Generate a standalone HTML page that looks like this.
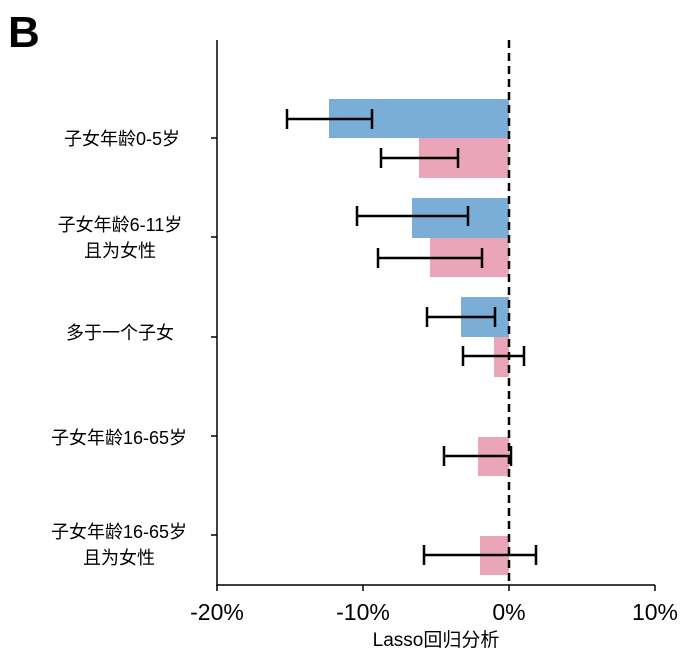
<!DOCTYPE html>
<html><head><meta charset="utf-8"><style>
body{margin:0;background:#fff;}
svg{display:block;font-family:"Liberation Sans","Noto Sans CJK SC",sans-serif;}
</style></head><body>
<svg width="690" height="664" viewBox="0 0 690 664" xmlns="http://www.w3.org/2000/svg">
<rect width="690" height="664" fill="#fff"/>
<text x="8" y="47" font-size="44" font-weight="bold" fill="#000">B</text>
<g fill="#7aaed6">
<rect x="329" y="99" width="180" height="39"/>
<rect x="412" y="198" width="97" height="40"/>
<rect x="461" y="297" width="48" height="40"/>
</g>
<g fill="#eba5b8">
<rect x="419" y="138" width="90" height="40"/>
<rect x="430" y="238" width="79" height="39"/>
<rect x="494" y="337" width="15" height="40"/>
<rect x="478" y="437" width="31" height="39"/>
<rect x="480" y="536" width="29" height="39"/>
</g>
<g stroke="#000" stroke-width="2.5" fill="none">
<path d="M287 119H372M287 109V129M372 109V129"/>
<path d="M381 158H458M381 148V168M458 148V168"/>
<path d="M357 216H468M357 206V226M468 206V226"/>
<path d="M378 258H482M378 248V268M482 248V268"/>
<path d="M427 317H495M427 307V327M495 307V327"/>
<path d="M463 356H524M463 346V366M524 346V366"/>
<path d="M444 456H511M444 446V466M511 446V466"/>
<path d="M424 555H536M424 545V565M536 545V565"/>
</g>
<g stroke="#000" stroke-width="1.5">
<line x1="217" y1="40" x2="217" y2="586"/>
<line x1="217" y1="585" x2="655" y2="585"/>
<line x1="211" y1="138" x2="217" y2="138"/>
<line x1="211" y1="237" x2="217" y2="237"/>
<line x1="211" y1="337" x2="217" y2="337"/>
<line x1="211" y1="436" x2="217" y2="436"/>
<line x1="211" y1="535" x2="217" y2="535"/>
<line x1="217" y1="585" x2="217" y2="591"/>
<line x1="363" y1="585" x2="363" y2="591"/>
<line x1="509" y1="585" x2="509" y2="591"/>
<line x1="655" y1="585" x2="655" y2="591"/>
</g>
<line x1="509" y1="40" x2="509" y2="585" stroke="#000" stroke-width="2.5" stroke-dasharray="8,5"/>
<g font-size="23" text-anchor="middle" fill="#000">
<text x="217" y="620">-20%</text>
<text x="363" y="620">-10%</text>
<text x="509" y="620">0%</text>
<text x="655" y="620">10%</text>
</g>
<text x="436" y="646" font-size="19" text-anchor="middle">Lasso回归分析</text>
<g font-size="18" text-anchor="middle" fill="#000">
<text x="122" y="145">子女年龄0-5岁</text>
<text x="120" y="231">子女年龄6-11岁</text>
<text x="120" y="257">且为女性</text>
<text x="120" y="339">多于一个子女</text>
<text x="119" y="444">子女年龄16-65岁</text>
<text x="119" y="538">子女年龄16-65岁</text>
<text x="119" y="564">且为女性</text>
</g>
</svg>
</body></html>
